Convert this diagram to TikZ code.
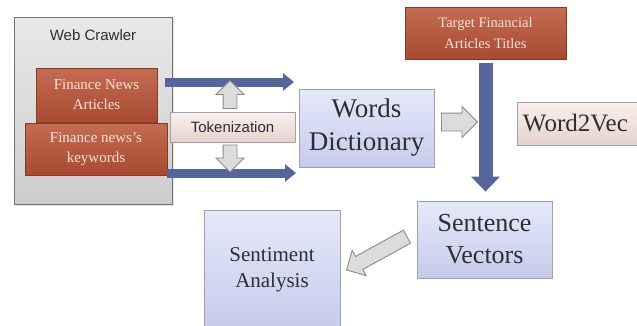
\documentclass[tikz,border=0pt]{standalone}
\usepackage{fontspec}
\setmainfont{Liberation Serif}
\setsansfont{Liberation Sans}
\usetikzlibrary{shapes.arrows,arrows.meta,shadows}
\definecolor{brownA}{HTML}{C46C52}
\definecolor{brownB}{HTML}{A84A31}
\definecolor{brownTxt}{HTML}{F8E2DA}
\definecolor{blueA}{HTML}{E6E9F9}
\definecolor{blueB}{HTML}{C6CBEC}
\definecolor{pinkA}{HTML}{F9F0EE}
\definecolor{pinkB}{HTML}{E6D2CD}
\definecolor{grayA}{HTML}{E8E8E8}
\definecolor{grayB}{HTML}{CDCDCD}
\definecolor{boxLine}{HTML}{9FA0AE}
\definecolor{arrowBlue}{HTML}{56659A}
\definecolor{hollowFill}{HTML}{DCDCDC}
\definecolor{hollowLine}{HTML}{8A8A8A}
\definecolor{txtDark}{HTML}{2E2E33}
\tikzset{
  shadowed/.style={drop shadow={opacity=0.22, shadow xshift=1.2pt, shadow yshift=-1.2pt}},
  crawler/.style={draw=black!55, line width=1.4pt, top color=grayA, bottom color=grayB, shadowed},
  brownbox/.style={draw=brownB!80!black, line width=0.4pt, top color=brownA, bottom color=brownB,
    text=brownTxt, font=\fontsize{15}{20}\selectfont, align=center, inner sep=0pt, shadowed},
  bluebox/.style={draw=boxLine, line width=0.8pt, top color=blueA, bottom color=blueB,
    text=txtDark, align=center, inner sep=0pt, shadowed},
  pinkbox/.style={draw=boxLine, line width=0.8pt, top color=pinkA, bottom color=pinkB,
    text=txtDark, align=center, inner sep=0pt, shadowed},
  bluearrow/.style={draw=arrowBlue, line width=9pt, -{Triangle[width=17pt,length=11pt]}},
  bigbluearrow/.style={draw=arrowBlue, line width=14pt, -{Triangle[width=28pt,length=15pt]}},
  hollow/.style={single arrow, draw=hollowLine, fill=hollowFill, line width=0.9pt,
    anchor=center},
}
\begin{document}
\begin{tikzpicture}[x=1pt,y=-1pt]
\useasboundingbox (0,0) rectangle (637,325);
\fill[white] (0,0) rectangle (637,325);

% Web crawler frame
\node[crawler, minimum width=158pt, minimum height=187pt, anchor=north west] (wc) at (14,17) {};
\node[font=\sffamily\fontsize{15}{18}\selectfont, text=txtDark] (wct) at (93,35) {Web Crawler};

% inner brown boxes
\node[brownbox, minimum width=121pt, minimum height=54pt] (fna) at (96.5,95) {Finance News\\Articles};
\node[brownbox, minimum width=142pt, minimum height=52pt] (fnk) at (96,149) {Finance news's\\keywords};

% blue arrows
\coordinate (a1s) at (165,82);
\coordinate (a1e) at (294,82);
\coordinate (a2s) at (167,173);
\coordinate (a2e) at (296,173);
\draw[bluearrow] (a1s) -- (a1e);
\draw[bluearrow] (a2s) -- (a2e);

% tokenization
\node[pinkbox, minimum width=125pt, minimum height=30pt, font=\sffamily\fontsize{15}{18}\selectfont] (tok) at (232.5,127) {Tokenization};
\node[hollow, inner sep=6.5pt, single arrow head extend=7pt, minimum height=28pt, rotate=90] (up) at (230,98) {};
\node[hollow, inner sep=6.5pt, single arrow head extend=7pt, minimum height=27pt, rotate=270] (down) at (230,155) {};

% words dictionary
\node[bluebox, minimum width=135pt, minimum height=78pt, font=\fontsize{27}{33}\selectfont] (wd) at (366.5,128) {Words\\Dictionary};
\node[hollow, inner sep=8.5pt, single arrow head extend=6.5pt, minimum height=36pt] (right) at (455,122) {};

% target
\node[brownbox, minimum width=161pt, minimum height=52pt, font=\fontsize{14.5}{21}\selectfont] (tgt) at (485.5,33) {Target Financial\\Articles Titles};

% word2vec
\node[pinkbox, minimum width=130pt, minimum height=43pt, anchor=west, font=\fontsize{25}{30}\selectfont] (w2v) at (517,123.5) {Word2Vec\hspace*{14pt}};

% sentence vectors
\node[bluebox, minimum width=135pt, minimum height=77pt, font=\fontsize{26}{32}\selectfont] (sv) at (484.5,239.5) {Sentence\\Vectors};
\draw[bigbluearrow, shorten <=4pt, shorten >=9pt] (tgt.south) -- (tgt.south |- sv.north);

% sentiment analysis
\node[bluebox, minimum width=136pt, minimum height=120pt, font=\fontsize{21}{26}\selectfont] (sa) at (272,270) {Sentiment\\Analysis};
\node[hollow, inner sep=7pt, single arrow head extend=7pt, minimum height=69pt, rotate=208.8] (diag) at (380,251.5) {};
\end{tikzpicture}
\end{document}
